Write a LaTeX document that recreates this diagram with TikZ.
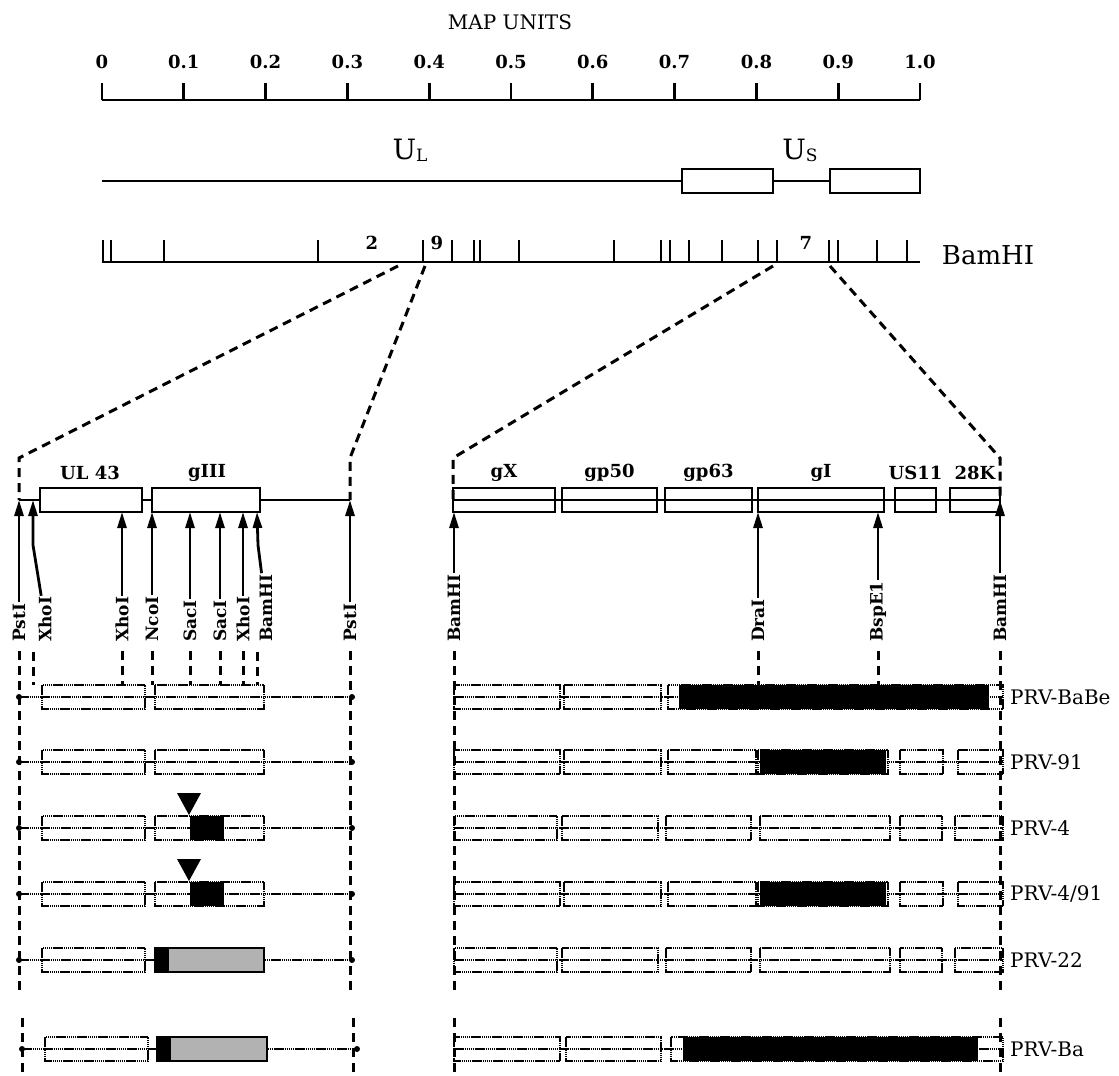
\documentclass[tikz,border=0pt]{standalone}
\usepackage{fontspec}
\setmainfont{DejaVu Serif}
\usetikzlibrary{arrows.meta}
\tikzset{
  axis/.style={line width=2.8pt},
  gbox/.style={draw,line width=2.4pt},
  site/.style={-{Triangle[length=16pt,width=9pt]},line width=2.8pt},
  cut/.style={line width=3pt,dash pattern=on 9pt off 6pt},
  rline/.style={line width=2.2pt,dash pattern=on 1.5pt off 0.6pt},
  enz/.style={rotate=90,anchor=west,inner sep=1pt,font=\fontsize{17}{17}\selectfont\bfseries},
  gname/.style={font=\fontsize{18}{18}\selectfont\bfseries},
  strain/.style={anchor=west,inner sep=0pt,font=\fontsize{20}{20}\selectfont},
  tiny/.style={font=\fontsize{18}{18}\selectfont\bfseries}
}
\begin{document}
\begin{tikzpicture}[x=1pt,y=-1pt]
\useasboundingbox (0,0) rectangle (1119,1076);
% map units
\node[font=\fontsize{20}{20}\selectfont] (title) at (510,22) {MAP UNITS};
\draw[axis] (102,100) -- (920,100);
\foreach \i/\t in {0/0,1/0.1,2/0.2,3/0.3,4/0.4,5/0.5,6/0.6,7/0.7,8/0.8,9/0.9,10/1.0}{
  \draw[axis] (102+81.8*\i,100) -- (102+81.8*\i,83);
  \node[tiny] (mu\i) at (102+81.8*\i,62) {\t};}
% UL / US
\draw[axis] (102,181) -- (682,181) (773,181) -- (830,181);
\draw[gbox] (682,169) rectangle (773,193) (830,169) rectangle (920,193);
\node[font=\fontsize{28}{28}\selectfont] (ul) at (410,150) {U\raisebox{-2pt}{\fontsize{17}{17}\selectfont L}};
\node[font=\fontsize{28}{28}\selectfont] (us) at (800,150) {U\raisebox{-2pt}{\fontsize{17}{17}\selectfont S}};
% BamHI map
\draw[axis] (102,262) -- (920,262);
\foreach \x in {103,111,164,318,423,452,474,480,519,614,661,670,689,722,758,777,829,838,877,907}
  \draw[line width=2.4pt] (\x,262) -- (\x,240);
\node[tiny] (f2) at (372,243) {2};\node[tiny] (f9) at (437,243) {9};\node[tiny] (f7) at (806,243) {7};
\node[font=\fontsize{26}{26}\selectfont] (bam) at (988,255) {BamHI};
\coordinate (la) at (398,266);\coordinate (lb) at (425,266);\coordinate (ra) at (773,266);\coordinate (rb) at (830,266);
\coordinate (lc) at (19,458);\coordinate (ld) at (350,458);\coordinate (rc) at (453,458);\coordinate (rd) at (1000,458);
\draw[cut] (la) -- (lc) -- (19,500) (lb) -- (ld) -- (350,500) (ra) -- (rc) -- (453,500) (rb) -- (rd) -- (1000,500);
% left panel
\draw[axis] (19,500) -- (350,500);
\draw[gbox,fill=white] (40,488) rectangle (142,512) (152,488) rectangle (260,512);
\node[gname] (ul43) at (90,473) {UL 43};\node[gname] (g3) at (207,473) {gIII};
\foreach \x/\t/\n/\ty in {19/PstI/pa/500,122/XhoI/xb/512,152/NcoI/nc/512,190/SacI/sa/512,220/SacI/sb/512,243/XhoI/xc/512,350/PstI/pb/500}{
  \node[enz] (\n) at (\x,643) {\t};\coordinate (\n t) at (\x,\ty);\draw[site] (\n) -- (\n t);}
\node[enz] (xa) at (45,643) {XhoI};\coordinate (xat) at (33,500);\coordinate (xab) at (33,545);\draw[site] (xa) -- (xab) -- (xat);
\node[enz] (ba) at (266,643) {BamHI};\coordinate (bat) at (257,512);\coordinate (bab) at (258,545);\draw[site] (ba) -- (bab) -- (bat);
\foreach \n in {xb,nc,sa,sb,xc} \draw[cut,shorten <=8pt] (\n.west) -- ([yshift=-42pt]\n.west);
\foreach \x in {33,257} \draw[cut] (\x,652) -- (\x,685);
\foreach \n in {pa,pb} \draw[cut,shorten <=8pt] (\n.west) -- ([yshift=-352pt]\n.west);
\draw[cut] (22,1018) -- (22,1076) (353,1018) -- (353,1076);
% left rows
\foreach \y in {697,762,828,894,960}{
  \draw[rline] (19,\y) -- (352,\y);\fill (19,\y) circle (3pt) (352,\y) circle (3pt);
  \draw[rline] (42,\y-12) rectangle (145,\y+12) (155,\y-12) rectangle (264,\y+12);}
\draw[rline] (22,1049) -- (357,1049);\fill (22,1049) circle (3pt) (357,1049) circle (3pt);
\draw[rline] (45,1037) rectangle (148,1061);
\foreach \y in {828,894}{\fill (190,\y-12) rectangle (224,\y+12);\fill (177,\y-35) -- (201,\y-35) -- (189,\y-13) -- cycle;}
\draw[line width=2.4pt,fill=black!30] (155,948) rectangle (264,972);\fill (155,948) rectangle (169,972);
\draw[line width=2.4pt,fill=black!30] (157,1037) rectangle (267,1061);\fill (157,1037) rectangle (171,1061);
% right panel
\draw[axis] (453,500) -- (1000,500);
\foreach \a/\b/\t/\n in {453/555/gX/gx,562/657/gp50/gpa,665/752/gp63/gpb,758/884/gI/gi,895/936/US11/us11,950/1000/28K/k28}{
  \draw[gbox] (\a,488) rectangle (\b,512);\node[gname] (\n) at ({(\a+\b)/2},473) {\t};}
\foreach \x/\t/\n/\ty in {454/BamHI/bc/512,758/DraI/dr/512,878/BspE1/bs/512,1000/BamHI/bd/500}{
  \node[enz] (\n) at (\x,643) {\t};\coordinate (\n t) at (\x,\ty);\draw[site] (\n) -- (\n t);}
\foreach \n in {dr,bs} \draw[cut,shorten <=8pt] (\n.west) -- ([yshift=-42pt]\n.west);
\foreach \n in {bc,bd} \draw[cut,shorten <=8pt] (\n.west) -- ([yshift=-352pt]\n.west);
\draw[cut] (454,1018) -- (454,1076) (1000,1018) -- (1000,1076);
% right rows
\foreach \y/\t/\n in {697/PRV-BaBe/s1,762/PRV-91/s2,828/PRV-4/s3,894/PRV-4\slash 91/s4,960/PRV-22/s5,1049/PRV-Ba/s6}{
  \draw[rline] (454,\y) -- (1003,\y);\node[strain] (\n) at (1010,\y) {\t};}
\foreach \y in {828,960}
  \foreach \a/\b in {454/557,562/658,666/751,760/890,900/942,955/1003}
    \draw[rline] (\a,\y-12) rectangle (\b,\y+12);
\foreach \y in {762,894}{
  \foreach \a/\b in {454/560,564/661,668/756,758/888,900/943,958/1003}
    \draw[rline] (\a,\y-12) rectangle (\b,\y+12);
  \fill (760,\y-12) rectangle (886,\y+12);}
\foreach \a/\b in {454/560,564/661,668/1003} \draw[rline] (\a,685) rectangle (\b,709);
\fill (679,685) rectangle (989,709);
\foreach \a/\b in {454/560,566/661,671/1003} \draw[rline] (\a,1037) rectangle (\b,1061);
\fill (683,1037) rectangle (978,1061);
\end{tikzpicture}
\end{document}
